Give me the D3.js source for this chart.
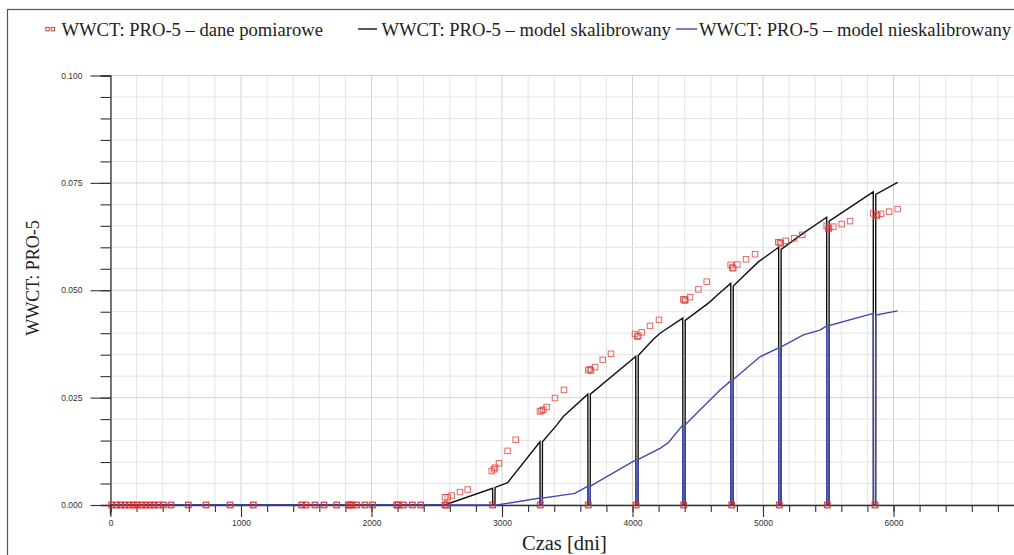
<!DOCTYPE html>
<html><head><meta charset="utf-8">
<script src="https://cdn.jsdelivr.net/npm/d3@7"></script>
<style>html,body{margin:0;padding:0;background:#fff;overflow:hidden}</style>
</head><body>
<svg id="chart" width="1014" height="555"></svg>
<script>
// ---- data ----
const measDays = [9,47,78,111,144,175,205,239,270,303,333,366,405,464,596,732,916,1094,1465,1498,1567,1636,1733,1822,1835,1848,1887,1950,2009,2193,2205,2244,2313,2377,
  2563,2576,2563,2584,2614,2678,2737,
  2928,2921,2939,2946,2977,3043,3105,
  3293,3291,3304,3317,3342,3406,3475,
  3661,3661,3674,3682,3713,3772,3835,
  4027,4019,4037,4045,4070,4134,4203,
  4392,4389,4400,4405,4441,4505,4569,
  4760,4752,4765,4772,4803,4870,4939,
  5125,5117,5130,5136,5174,5238,5301,
  5493,5488,5501,5506,5539,5603,5667,
  5858,5845,5871,5876,5904,5966,6032];
const measWWCT = [0,0,0,0,0,0,0,0,0,0,0,0,0,0,0,0,0,0,0,0,0,0,0,0,0,0,0,0,0,0,0,0,0,0,
  0,0,0.0018,0.0018,0.0022,0.0030,0.0036,
  0,0.0079,0.0083,0.0087,0.0097,0.0126,0.0152,
  0,0.0218,0.0220,0.0222,0.0228,0.0249,0.0268,
  0,0.0314,0.0316,0.0313,0.0321,0.0338,0.0352,
  0,0.0398,0.0392,0.0394,0.0402,0.0417,0.0431,
  0,0.0479,0.0476,0.0478,0.0484,0.0502,0.0520,
  0,0.0559,0.0553,0.0551,0.0560,0.0572,0.0584,
  0,0.0612,0.0611,0.0609,0.0615,0.0621,0.0629,
  0,0.0650,0.0643,0.0645,0.0648,0.0654,0.0661,
  0,0.0679,0.0673,0.0676,0.0678,0.0683,0.0689];

const calDays = [0,2560,2928,2929,2946,2947,3043,3291,3292,3309,3310,3419,3470,3658,3659,3676,3677,4025,4026,4043,4044,4160,4211,4385,4386,4403,4404,4594,4650,4753,4754,4771,4772,4964,5120,5121,5138,5139,5309,5488,5489,5506,5507,5845,5846,5863,5864,6032];
const calWWCT = [0,0,0.0039,0,0,0.0041,0.0052,0.0147,0,0,0.0147,0.0186,0.0206,0.0258,0,0,0.0258,0.0346,0,0,0.0348,0.0386,0.0400,0.0435,0,0,0.0430,0.0473,0.0489,0.0516,0,0,0.0510,0.0566,0.0600,0,0,0.0595,0.0633,0.0670,0,0,0.0661,0.0729,0,0,0.0723,0.0751];

const uncalDays = [0,2960,3291,3292,3309,3310,3559,3658,3659,3676,3677,4025,4026,4043,4044,4211,4274,4385,4386,4403,4404,4517,4671,4753,4754,4771,4772,4977,5120,5121,5138,5139,5309,5437,5488,5489,5506,5507,5845,5846,5863,5864,6032];
const uncalWWCT = [0,0,0.0016,0,0,0.0016,0.0027,0.0044,0,0,0.0044,0.0105,0,0,0.0106,0.0132,0.0145,0.0186,0,0,0.0187,0.0221,0.0268,0.0289,0,0,0.0292,0.0345,0.0366,0,0,0.0368,0.0396,0.0407,0.0417,0,0,0.0418,0.0446,0,0,0.0442,0.0452];

const xTicksMajor = [0,1000,2000,3000,4000,5000,6000,7000];
const yTicksMajor = [0,0.025,0.05,0.075,0.1];
const legendLabels = ["WWCT: PRO-5 – dane pomiarowe","WWCT: PRO-5 – model skalibrowany","WWCT: PRO-5 – model nieskalibrowany"];
const xTitle = "Czas [dni]";
const yTitle = "WWCT: PRO-5";

// ---- drawing ----
const svg = d3.select("#chart");
const x = d3.scaleLinear().domain([0,7000]).range([110.5,1024]);
const y = d3.scaleLinear().domain([0,0.1]).range([505,75.5]);
const serif = "'Liberation Serif','Times New Roman',serif";
const sans = "'Liberation Sans',Arial,sans-serif";

svg.append("rect").attr("width",1014).attr("height",555).attr("fill","#fff");
// outer frame
svg.append("rect").attr("x",7.5).attr("y",9.5).attr("width",1040).attr("height",600)
  .attr("fill","none").attr("stroke","#555").attr("stroke-width",1.2);

// grid
const g = svg.append("g");
const xMinor = d3.range(0,7001,200), yMinor = d3.range(0,0.1001,0.005);
g.selectAll(".vg").data(xMinor).join("line")
  .attr("x1",d=>x(d)).attr("x2",d=>x(d)).attr("y1",y(0.1)).attr("y2",y(0))
  .attr("stroke",d=>d%1000===0?"#d2d2d2":"#e4e4e4").attr("stroke-width",1);
g.selectAll(".hg").data(yMinor).join("line")
  .attr("x1",x(0)).attr("x2",x(7000)).attr("y1",d=>y(d)).attr("y2",d=>y(d))
  .attr("stroke",(d,i)=>i%5===0?"#d2d2d2":"#e4e4e4").attr("stroke-width",1);

// axes
const axisCol = "#333";
const xAxis = d3.axisBottom(x).tickValues(xMinor).tickSize(7).tickFormat("");
const xa = svg.append("g").attr("transform",`translate(0,${y(0)})`).call(xAxis);
const xAxisMaj = d3.axisBottom(x).tickValues(xTicksMajor).tickSize(12).tickPadding(3).tickFormat(d3.format("d"));
const xb = svg.append("g").attr("transform",`translate(0,${y(0)})`).call(xAxisMaj);
[xa,xb].forEach(a=>{a.select(".domain").attr("stroke",axisCol).attr("stroke-width",1.3);
  a.selectAll(".tick line").attr("stroke",axisCol).attr("stroke-width",1.1);
  a.selectAll("text").attr("font-family",sans).attr("font-size",8.5).attr("fill","#333");});
xb.select(".domain").remove();

const yAxis = d3.axisLeft(y).tickValues(yMinor).tickSize(10).tickFormat("");
const ya = svg.append("g").attr("transform",`translate(${x(0)},0)`).call(yAxis);
const yAxisMaj = d3.axisLeft(y).tickValues(yTicksMajor).tickSize(20).tickPadding(8).tickFormat(d3.format(".3f"));
const yb = svg.append("g").attr("transform",`translate(${x(0)},0)`).call(yAxisMaj);
[ya,yb].forEach(a=>{a.select(".domain").attr("stroke",axisCol).attr("stroke-width",1.3);
  a.selectAll(".tick line").attr("stroke",axisCol).attr("stroke-width",1.1);
  a.selectAll("text").attr("font-family",sans).attr("font-size",8.5).attr("fill","#333");});
yb.select(".domain").remove();
svg.append("line").attr("x1",x(0)).attr("x2",x(0)).attr("y1",y(0)).attr("y2",y(0)+10).attr("stroke",axisCol).attr("stroke-width",1.3);

// lines
const line = d3.line().x(d=>x(d[0])).y(d=>y(d[1]));
svg.append("path").datum(d3.zip(calDays,calWWCT)).attr("d",line)
  .attr("fill","none").attr("stroke","#111").attr("stroke-width",1.4);
svg.append("path").datum(d3.zip(uncalDays,uncalWWCT)).attr("d",line)
  .attr("fill","none").attr("stroke","#3c48b0").attr("stroke-width",1.4);

// measured points
const sz = 5.5;
svg.append("g").selectAll("rect").data(d3.zip(measDays,measWWCT)).join("rect")
  .attr("x",d=>x(d[0])-sz/2).attr("y",d=>y(d[1])-sz/2).attr("width",sz).attr("height",sz)
  .attr("fill","none").attr("stroke",d=>d[1]===0?"#e0302a":"#d8413c")
  .attr("stroke-opacity",d=>d[1]===0?0.9:0.8).attr("stroke-width",d=>d[1]===0?1.3:1);

// titles
svg.append("text").attr("x",522).attr("y",549.5).attr("font-family",serif).attr("font-size",20.5)
  .attr("fill","#222").text(xTitle);
svg.append("text").attr("transform","translate(39,278) rotate(-90)").attr("text-anchor","middle")
  .attr("font-family",serif).attr("font-size",18).attr("fill","#222").text(yTitle);

// legend
const lg = svg.append("g").attr("font-family",serif).attr("font-size",18.6).attr("fill","#222");
const lgTextX = [61.5,381.5,699];
lg.selectAll("text").data(legendLabels).join("text").attr("x",(d,i)=>lgTextX[i]).attr("y",36).text(d=>d);
[45.8,51.2].forEach(px=>lg.append("rect").attr("x",px).attr("y",27.5).attr("width",3.4).attr("height",3.4)
  .attr("fill","none").attr("stroke","#d8413c").attr("stroke-width",1));
lg.append("line").attr("x1",358).attr("x2",377).attr("y1",29).attr("y2",29).attr("stroke","#111").attr("stroke-width",1.4);
lg.append("line").attr("x1",676).attr("x2",697).attr("y1",29).attr("y2",29).attr("stroke","#3c48b0").attr("stroke-width",1.4);
</script>
</body></html>
